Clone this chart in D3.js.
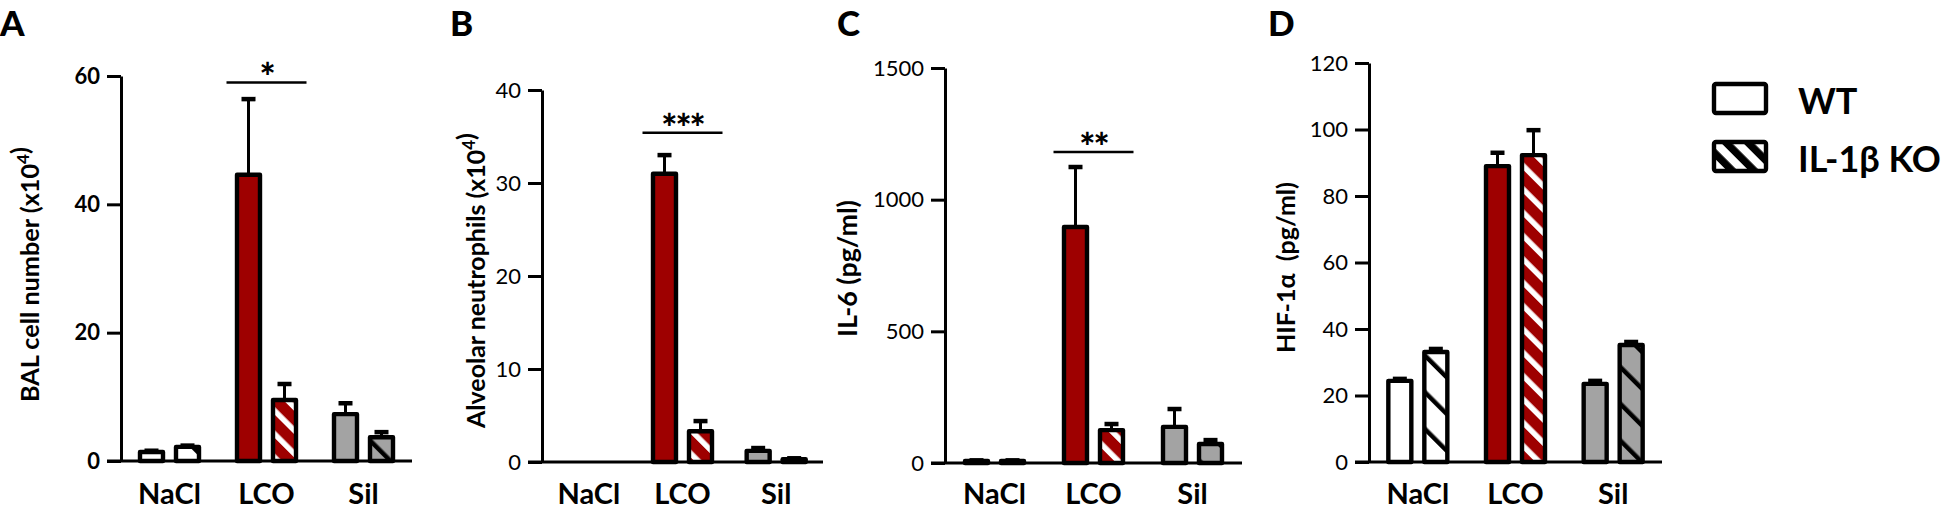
<!DOCTYPE html>
<html><head><meta charset="utf-8">
<script src="https://cdn.jsdelivr.net/npm/d3@7"></script>
<style>
body{margin:0;background:#fff}
svg{display:block}
text{font-family:Lato,"Open Sans",sans-serif;fill:#000}
</style></head><body>
<svg id="chart" width="1946" height="512"></svg>
<script>
// ---------- data ----------
const groups = ["NaCl", "LCO", "Sil"];
const genotypes = ["WT", "IL-1β KO"];
const panelLetters = ["A", "B", "C", "D"];

// A: BAL cell number (x10^4)
const balWT = [1.4, 44.6, 7.3];
const balWTsem = [0.2, 11.8, 1.7];
const balKO = [2.2, 9.5, 3.7];
const balKOsem = [0.2, 2.5, 0.8];
const balTicks = [0, 20, 40, 60];

// B: Alveolar neutrophils (x10^4)
const neuWT = [0, 31, 1.2];
const neuWTsem = [0, 2.0, 0.3];
const neuKO = [0, 3.3, 0.3];
const neuKOsem = [0, 1.1, 0.1];
const neuTicks = [0, 10, 20, 30, 40];

// C: IL-6 (pg/ml)
const il6WT = [8, 896, 137];
const il6WTsem = [2, 228, 68];
const il6KO = [8, 125, 72];
const il6KOsem = [2, 23, 15];
const il6Ticks = [0, 500, 1000, 1500];

// D: HIF-1α (pg/ml)
const hifWT = [24.4, 89.0, 23.5];
const hifWTsem = [0.6, 4.0, 0.9];
const hifKO = [33.1, 92.3, 35.2];
const hifKOsem = [0.9, 7.5, 0.9];
const hifTicks = [0, 20, 40, 60, 80, 100, 120];

// significance (LCO WT vs KO)
const sigLabels = ["*", "***", "**", ""];
const sigLevels = [59, 35.4, 1181, null];

const yTitles = [
  [{t: "BAL cell number (x10"}, {t: "4", sup: true}, {t: ")"}],
  [{t: "Alveolar neutrophils (x10"}, {t: "4", sup: true}, {t: ")"}],
  [{t: "IL-6 (pg/ml)"}],
  [{t: "HIF-1α\u00a0\u00a0(pg/ml)"}]
];

// ---------- layout ----------
const layout = [
  {x0: 121, x1: 412, yBase: 461, yTop: 76, letterX: 0, titleX: 30, titleY: 274.5, titleLen: 255, boldTicks: true},
  {x0: 542, x1: 823, yBase: 462, yTop: 90, letterX: 450, titleX: 476, titleY: 280.5, titleLen: 295, boldTicks: false},
  {x0: 945, x1: 1242, yBase: 463, yTop: 68, letterX: 837, titleX: 847, titleY: 268.5, titleLen: 137, boldTicks: false},
  {x0: 1369, x1: 1662, yBase: 462, yTop: 63, letterX: 1268, titleX: 1286, titleY: 267.5, titleLen: 171, boldTicks: false}
];
const groupColors = ["#ffffff", "#9e0000", "#a3a3a3"];
const hatchIds = ["hatch-white", "hatch-red", "hatch-gray"];

const svg = d3.select("#chart");
const defs = svg.append("defs");

function hatch(id, bg, stripe, period, sw) {
  const p = defs.append("pattern").attr("id", id)
    .attr("patternUnits", "userSpaceOnUse")
    .attr("width", period).attr("height", period)
    .attr("patternTransform", "rotate(-45)");
  p.append("rect").attr("width", period).attr("height", period).attr("fill", bg);
  p.append("rect").attr("x", 0).attr("width", sw).attr("height", period).attr("fill", stripe);
}
hatch("hatch-white", "#ffffff", "#000", 26, 4.5);
hatch("hatch-red", "#9e0000", "#ffffff", 16.5, 5.5);
hatch("hatch-gray", "#a3a3a3", "#000", 26, 4.5);
hatch("hatch-legend", "#ffffff", "#000", 15.5, 7.5);

const panels = [
  {wt: balWT, wtSem: balWTsem, ko: balKO, koSem: balKOsem, ticks: balTicks},
  {wt: neuWT, wtSem: neuWTsem, ko: neuKO, koSem: neuKOsem, ticks: neuTicks},
  {wt: il6WT, wtSem: il6WTsem, ko: il6KO, koSem: il6KOsem, ticks: il6Ticks},
  {wt: hifWT, wtSem: hifWTsem, ko: hifKO, koSem: hifKOsem, ticks: hifTicks}
];

panels.forEach((P, i) => {
  const L = layout[i];
  const g = svg.append("g");
  const yMax = d3.max(P.ticks);
  const y = d3.scaleLinear().domain([0, yMax]).range([L.yBase, L.yTop]);
  const x = d3.scaleBand().domain(groups).range([L.x0, L.x1]);
  const sub = d3.scalePoint().domain(genotypes).range([-18, 18]);
  const bw = 23;

  const rows = groups.flatMap((grp, gi) => [
    {grp, gi, geno: genotypes[0], v: P.wt[gi], s: P.wtSem[gi]},
    {grp, gi, geno: genotypes[1], v: P.ko[gi], s: P.koSem[gi]}
  ]).filter(d => d.v > 0);
  const cx = d => x(d.grp) + x.bandwidth() / 2 + sub(d.geno);

  // error bars (upper only)
  g.selectAll("line.err").data(rows).join("line").attr("class", "err")
    .attr("x1", cx).attr("x2", cx)
    .attr("y1", d => y(d.v)).attr("y2", d => y(d.v + d.s))
    .attr("stroke", "#000").attr("stroke-width", 3);
  g.selectAll("line.cap").data(rows).join("line").attr("class", "cap")
    .attr("x1", d => cx(d) - 7).attr("x2", d => cx(d) + 7)
    .attr("y1", d => y(d.v + d.s)).attr("y2", d => y(d.v + d.s))
    .attr("stroke", "#000").attr("stroke-width", 4.5);

  // bars
  g.selectAll("rect.bar").data(rows).join("rect").attr("class", "bar")
    .attr("x", d => cx(d) - bw / 2).attr("width", bw)
    .attr("y", d => y(d.v)).attr("height", d => y(0) - y(d.v))
    .attr("fill", d => d.geno === genotypes[0] ? groupColors[d.gi] : `url(#${hatchIds[d.gi]})`)
    .attr("stroke", "#000").attr("stroke-width", 4.4).attr("stroke-linejoin", "round");

  // y axis
  const ax = d3.axisLeft(y).tickValues(P.ticks).tickFormat(d3.format("d"))
    .tickSize(14).tickSizeOuter(0).tickPadding(7);
  const ag = g.append("g").attr("transform", `translate(${L.x0},0)`).call(ax)
    .attr("font-family", "Lato, 'Open Sans', sans-serif").attr("font-size", 22);
  ag.select(".domain").attr("stroke-width", 3).attr("stroke", "#000");
  ag.selectAll(".tick line").attr("stroke-width", 3).attr("stroke", "#000");
  ag.selectAll(".tick text").attr("font-weight", L.boldTicks ? 700 : 400).attr("fill", "#000");

  // x baseline
  g.append("line").attr("x1", L.x0 - 14).attr("x2", L.x1)
    .attr("y1", y(0)).attr("y2", y(0)).attr("stroke", "#000").attr("stroke-width", 3);

  // category labels
  g.selectAll("text.cat").data(groups).join("text").attr("class", "cat")
    .attr("x", d => x(d) + x.bandwidth() / 2).attr("y", 504)
    .attr("text-anchor", "middle").attr("font-size", 29).attr("font-weight", 700)
    .text(d => d);

  // y title
  const t = g.append("text")
    .attr("transform", `translate(${L.titleX},${L.titleY}) rotate(-90)`)
    .attr("text-anchor", "middle").attr("dy", "0.36em")
    .attr("font-size", 23).attr("font-weight", 700)
    .style("white-space", "pre");
  yTitles[i].forEach(part => {
    if (part.sup) {
      t.append("tspan").attr("font-size", "0.68em").attr("dy", "-0.6em").text(part.t);
      t.append("tspan").attr("dy", "0.41em").text("");
    } else {
      t.append("tspan").text(part.t);
    }
  });
  const len = t.node().getComputedTextLength();
  if (len > 0) t.attr("font-size", 23 * L.titleLen / len);

  // panel letter
  svg.append("text").attr("x", L.letterX).attr("y", 36)
    .attr("font-size", 35).attr("font-weight", 900).text(panelLetters[i]);

  // significance
  if (sigLevels[i] !== null) {
    const c = x(groups[1]) + x.bandwidth() / 2;
    const sy = y(sigLevels[i]);
    g.append("line").attr("x1", c - 40).attr("x2", c + 40).attr("y1", sy).attr("y2", sy)
      .attr("stroke", "#000").attr("stroke-width", 2.5);
    g.append("text").attr("x", c).attr("y", sy + 9).attr("text-anchor", "middle")
      .attr("font-size", 38).attr("font-weight", 900).attr("letter-spacing", -2)
      .text(sigLabels[i]);
  }
});

// legend
const leg = svg.append("g");
const legFills = ["#ffffff", "url(#hatch-legend)"];
const legY = d3.scalePoint().domain(genotypes).range([84, 142]);
leg.selectAll("rect").data(genotypes).join("rect")
  .attr("x", 1714).attr("y", d => legY(d)).attr("width", 52).attr("height", 29)
  .attr("rx", 2).attr("fill", (d, i) => legFills[i])
  .attr("stroke", "#000").attr("stroke-width", 4.4);
leg.selectAll("text").data(genotypes).join("text")
  .attr("x", 1798).attr("y", d => legY(d) + 29.5)
  .attr("font-size", 36).attr("font-weight", 700).text(d => d);
</script>
</body></html>
